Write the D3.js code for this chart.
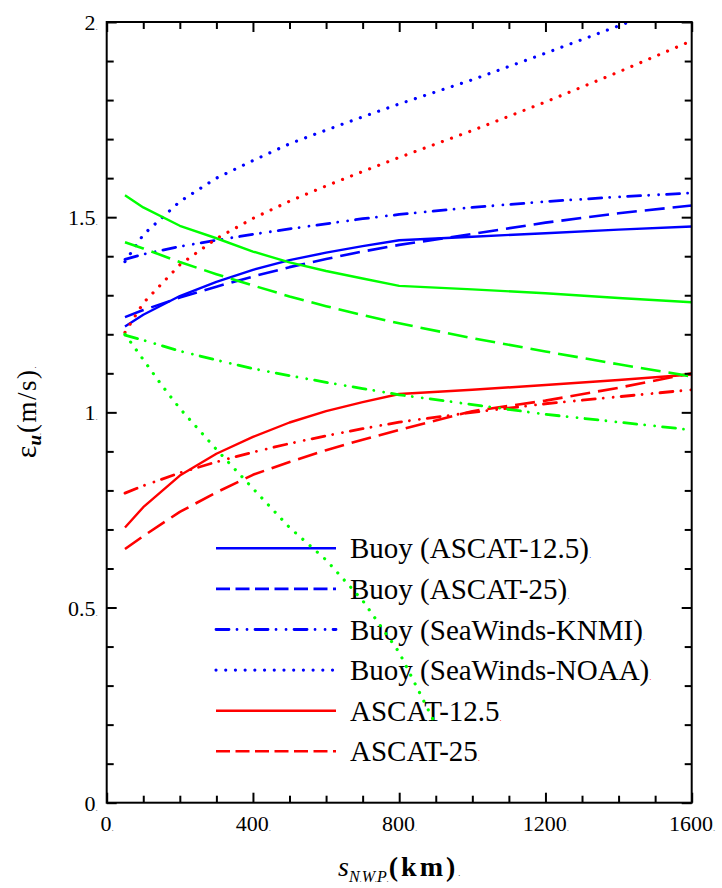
<!DOCTYPE html>
<html>
<head>
<meta charset="utf-8">
<script src="https://cdn.jsdelivr.net/npm/d3@7"></script>
<style>
  body { margin: 0; background: #ffffff; }
  svg { display: block; }
</style>
</head>
<body>
<svg id="chart" width="722" height="888" font-family="'Liberation Serif', serif"></svg>
<script>
// NWP scale (km) at which the errors were evaluated
const distances = [50, 100, 200, 300, 400, 500, 600, 700, 800, 1000, 1200, 1400, 1600];
const greenDottedDistances = [50, 100, 150, 200, 300, 400, 500, 600, 700, 800, 900];

// Error standard deviation (m/s) per configuration
const buoyAscat125     = [1.220, 1.250, 1.298, 1.334, 1.365, 1.390, 1.409, 1.426, 1.441, 1.450, 1.459, 1.468, 1.476];
const buoyAscat25      = [1.244, 1.262, 1.294, 1.322, 1.348, 1.372, 1.393, 1.412, 1.429, 1.457, 1.486, 1.510, 1.530];
const buoySeaWindsKnmi = [1.392, 1.405, 1.425, 1.441, 1.456, 1.470, 1.483, 1.496, 1.507, 1.525, 1.540, 1.552, 1.562];
const buoySeaWindsNoaa = [1.386, 1.455, 1.540, 1.600, 1.645, 1.688, 1.723, 1.757, 1.790, 1.852, 1.920, 1.990, 2.060];
const ascat125         = [0.705, 0.757, 0.838, 0.894, 0.937, 0.974, 1.003, 1.026, 1.047, 1.058, 1.070, 1.083, 1.097];
const ascat25          = [0.650, 0.683, 0.745, 0.795, 0.840, 0.873, 0.903, 0.930, 0.955, 1.003, 1.030, 1.063, 1.100];
const seaWindsKnmi     = [0.793, 0.812, 0.845, 0.873, 0.898, 0.920, 0.940, 0.958, 0.975, 1.000, 1.022, 1.040, 1.058];
const seaWindsNoaa     = [1.205, 1.280, 1.378, 1.445, 1.497, 1.541, 1.580, 1.617, 1.653, 1.722, 1.795, 1.872, 1.952];
const nwpAscat125      = [1.556, 1.525, 1.478, 1.446, 1.412, 1.384, 1.362, 1.343, 1.324, 1.315, 1.305, 1.293, 1.282];
const nwpAscat25       = [1.436, 1.420, 1.385, 1.354, 1.325, 1.297, 1.272, 1.249, 1.228, 1.190, 1.156, 1.123, 1.092];
const nwpSeaWindsKnmi  = [1.198, 1.185, 1.157, 1.134, 1.112, 1.094, 1.077, 1.061, 1.045, 1.020, 0.995, 0.975, 0.955];
const nwpSeaWindsNoaa  = [1.200, 1.135, 1.070, 1.010, 0.905, 0.805, 0.705, 0.622, 0.518, 0.385, 0.200];

const xTickValues = [0, 400, 800, 1200, 1600];
const yTickValues = [0, 0.5, 1, 1.5, 2];
const legendLabels = ["Buoy (ASCAT-12.5)", "Buoy (ASCAT-25)", "Buoy (SeaWinds-KNMI)",
                      "Buoy (SeaWinds-NOAA)", "ASCAT-12.5", "ASCAT-25"];
const legendDotColors = ["#0000ff", "#0000ff", "#0000ff", "#ff0000", "#ff0000", "#ff0000"];

const BLUE = "#0000ff", RED = "#ff0000", GREEN = "#00ff00";
const SERIF = "'Liberation Serif', serif";

const styles = {
  solid:   { dash: null,                  cap: "butt",  width: 2.4, legendDash: null },
  dashed:  { dash: "20,8",                cap: "butt",  width: 2.6, legendDash: "14,5.5" },
  dashdot: { dash: "13,8,0.01,10,0.01,8", cap: "round", width: 2.8, legendDash: "13,8,0.01,10,0.01,8" },
  dotted:  { dash: "0.01,9.7",            cap: "round", width: 3.2, legendDash: "0.01,9.7" }
};

const series = [
  { xs: distances, ys: buoyAscat125,     color: BLUE,  style: "solid" },
  { xs: distances, ys: buoyAscat25,      color: BLUE,  style: "dashed" },
  { xs: distances, ys: buoySeaWindsKnmi, color: BLUE,  style: "dashdot" },
  { xs: distances, ys: buoySeaWindsNoaa, color: BLUE,  style: "dotted" },
  { xs: distances, ys: ascat125,         color: RED,   style: "solid" },
  { xs: distances, ys: ascat25,          color: RED,   style: "dashed" },
  { xs: distances, ys: seaWindsKnmi,     color: RED,   style: "dashdot" },
  { xs: distances, ys: seaWindsNoaa,     color: RED,   style: "dotted" },
  { xs: distances, ys: nwpAscat125,      color: GREEN, style: "solid" },
  { xs: distances, ys: nwpAscat25,       color: GREEN, style: "dashed" },
  { xs: distances, ys: nwpSeaWindsKnmi,  color: GREEN, style: "dashdot" },
  { xs: greenDottedDistances, ys: nwpSeaWindsNoaa, color: GREEN, style: "dotted" }
];

const legendSeries = series.slice(0, 6);

const W = 722, H = 888;
const margin = { top: 22, right: 30.3, bottom: 85.3, left: 106.7 };
const innerW = W - margin.left - margin.right;
const innerH = H - margin.top - margin.bottom;

const svg = d3.select("#chart");
const g = svg.append("g").attr("transform", `translate(${margin.left},${margin.top})`);

const x = d3.scaleLinear().domain([0, 1600]).range([0, innerW]);
const y = d3.scaleLinear().domain([0, 2]).range([innerH, 0]);

const xMinor = d3.range(0, 1601, 100).filter(v => !xTickValues.includes(v));
const yMinor = d3.range(0, 21, 1).map(v => v / 10).filter(v => !yTickValues.includes(v));

g.append("clipPath").attr("id", "plot-clip")
  .append("rect").attr("width", innerW).attr("height", innerH);

// Legend (drawn below the curves)
const legend = g.append("g").attr("class", "legend");
legendSeries.forEach((s, i) => {
  const st = styles[s.style];
  const rowY = 526.3 + i * 40.6;
  legend.append("line")
    .attr("x1", 216 - margin.left).attr("x2", 336 - margin.left)
    .attr("y1", rowY).attr("y2", rowY)
    .attr("stroke", s.color).attr("stroke-width", st.width)
    .attr("stroke-linecap", st.cap)
    .attr("stroke-dasharray", st.legendDash);
  const t = legend.append("text")
    .attr("x", 350 - margin.left).attr("y", rowY + 10)
    .attr("font-family", SERIF)
    .attr("font-size", 29).attr("fill", "#000");
  t.append("tspan").text(legendLabels[i]);
  t.append("tspan").attr("font-size", 9).attr("fill", legendDotColors[i]).text(".");
});

// Curves
const line = d3.line().x(d => x(d[0])).y(d => y(d[1]));
const curves = g.append("g").attr("clip-path", "url(#plot-clip)");
series.forEach(s => {
  const st = styles[s.style];
  curves.append("path")
    .datum(s.xs.map((v, i) => [v, s.ys[i]]))
    .attr("d", line)
    .attr("fill", "none")
    .attr("stroke", s.color)
    .attr("stroke-width", st.width)
    .attr("stroke-linecap", st.cap)
    .attr("stroke-linejoin", "round")
    .attr("stroke-dasharray", st.dash);
});

// Axes: inward ticks on all four sides
function styleAxis(sel) {
  sel.attr("font-family", SERIF);
  sel.select(".domain").remove();
  sel.selectAll(".tick line").attr("stroke", "#000").attr("stroke-width", 2);
}
function labelWithDot(sel) {
  sel.attr("font-size", 22);
  sel.selectAll(".tick text").each(function(d) {
    const t = d3.select(this);
    t.text(null).attr("font-family", SERIF).attr("font-size", 22).attr("fill", "#000");
    t.append("tspan").text(d3.format("~g")(d));
    t.append("tspan").attr("font-size", 9).attr("fill", "#555").text(".");
  });
}

const bottomMajor = g.append("g").attr("transform", `translate(0,${innerH})`)
  .call(d3.axisBottom(x).tickValues(xTickValues).tickSize(-10).tickPadding(0));
styleAxis(bottomMajor);
labelWithDot(bottomMajor);
bottomMajor.selectAll(".tick text").attr("y", 28).attr("dy", 0);

g.append("g").attr("transform", `translate(0,${innerH})`)
  .call(d3.axisBottom(x).tickValues(xMinor).tickSize(-7).tickFormat(""))
  .call(styleAxis);
g.append("g")
  .call(d3.axisTop(x).tickValues(xTickValues).tickSize(-10).tickFormat(""))
  .call(styleAxis);
g.append("g")
  .call(d3.axisTop(x).tickValues(xMinor).tickSize(-7).tickFormat(""))
  .call(styleAxis);

const leftMajor = g.append("g")
  .call(d3.axisLeft(y).tickValues(yTickValues).tickSize(-10).tickPadding(0));
styleAxis(leftMajor);
labelWithDot(leftMajor);
leftMajor.selectAll(".tick text").attr("x", -9).attr("dy", "0.34em");

g.append("g")
  .call(d3.axisLeft(y).tickValues(yMinor).tickSize(-7).tickFormat(""))
  .call(styleAxis);
g.append("g").attr("transform", `translate(${innerW},0)`)
  .call(d3.axisRight(y).tickValues(yTickValues).tickSize(-10).tickFormat(""))
  .call(styleAxis);
g.append("g").attr("transform", `translate(${innerW},0)`)
  .call(d3.axisRight(y).tickValues(yMinor).tickSize(-7).tickFormat(""))
  .call(styleAxis);

// Frame
g.append("rect")
  .attr("width", innerW).attr("height", innerH)
  .attr("fill", "none").attr("stroke", "#000").attr("stroke-width", 2);

// X axis title: s_NWP (km)
const xt = svg.append("text")
  .attr("x", margin.left + innerW / 2).attr("y", 876)
  .attr("text-anchor", "middle").attr("font-family", SERIF).attr("fill", "#000");
xt.append("tspan").attr("font-size", 28).attr("font-style", "italic").text("s");
const subParts = ["N", ".", "W", ".", "P", "."];
subParts.forEach((p, i) => {
  const ts = xt.append("tspan").attr("font-style", "italic")
    .attr("font-size", p === "." ? 8 : 16).text(p);
  if (i === 0) ts.attr("dy", 6);
});
xt.append("tspan").attr("dy", -6).attr("font-size", 28).attr("font-weight", "bold")
  .attr("letter-spacing", 3).text("(km)");
xt.append("tspan").attr("font-size", 8).text(".");

// Y axis title: ε_u (m/s)
const yt = svg.append("text")
  .attr("transform", `translate(36,${margin.top + innerH / 2}) rotate(-90)`)
  .attr("text-anchor", "middle").attr("font-family", SERIF).attr("fill", "#000");
yt.append("tspan").attr("font-size", 30).text("ε");
yt.append("tspan").attr("dy", 5).attr("font-size", 19).attr("font-style", "italic")
  .attr("font-weight", "bold").text("u");
yt.append("tspan").attr("font-size", 8).text(".");
yt.append("tspan").attr("dy", -5).attr("font-size", 27).attr("letter-spacing", 1.5).text("(m/s)");
yt.append("tspan").attr("font-size", 8).text(".");
</script>
</body>
</html>
